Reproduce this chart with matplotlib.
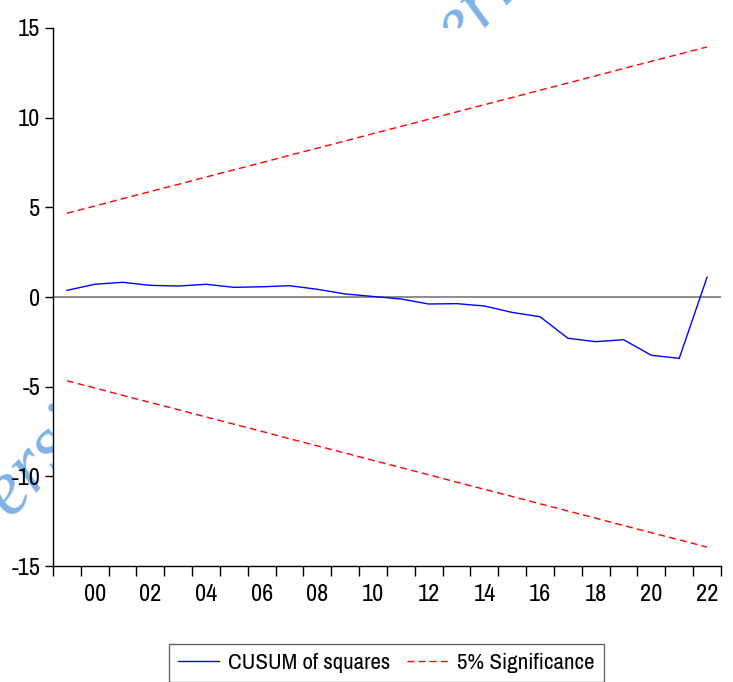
import matplotlib.pyplot as plt

plt.rcParams['font.family'] = ['Archivo Narrow', 'Liberation Sans', 'DejaVu Sans']

years = list(range(1999, 2023))
cusum = [0.37, 0.71, 0.82, 0.65, 0.61, 0.71, 0.54, 0.57, 0.63, 0.43, 0.17, 0.03,
         -0.11, -0.39, -0.37, -0.50, -0.86, -1.10, -2.30, -2.49, -2.38, -3.25, -3.42, 1.10]
upper = [4.67, 5.07, 5.48, 5.88, 6.28, 6.69, 7.09, 7.49, 7.90, 8.30, 8.70, 9.11,
         9.51, 9.91, 10.32, 10.72, 11.12, 11.53, 11.93, 12.33, 12.74, 13.14, 13.54, 13.94]
lower = [-v for v in upper]
year_labels = ['00', '02', '04', '06', '08', '10', '12', '14', '16', '18', '20', '22']

fig = plt.figure(figsize=(7.33, 6.82), dpi=100)

# light watermark, sits behind the white plot area
fig.text(0.29, 0.585, 'University Journal of Nigeria', fontsize=56, family='Liberation Serif',
         style='italic', color='#7fb2e5', rotation=46, ha='center', va='center', zorder=0)

ax = fig.add_axes([0.0723, 0.170, 0.9113, 0.789])
ax.set_facecolor('white')
ax.set_zorder(1)

ax.axhline(0, color='#6e6e6e', lw=1.1, zorder=1)
ax.plot(years, cusum, color='#0000ff', lw=1.0, label='CUSUM of squares', zorder=3)
ax.plot(years, upper, color='#ff0000', lw=1.0, ls=(0, (5, 3)), label='5% Significance', zorder=2)
ax.plot(years, lower, color='#ff0000', lw=1.0, ls=(0, (5, 3)), zorder=2)

ax.set_xlim(1998.5, 2022.5)
ax.set_ylim(-15, 15)
ax.set_yticks([-15, -10, -5, 0, 5, 10, 15])
ax.set_yticklabels(['-15', '-10', '-5', '0', '5', '10', '15'])

# year boundaries get tick marks, even years get the labels
ax.set_xticks([y + 0.5 for y in range(1998, 2023)], minor=True)
ax.set_xticks(list(range(2000, 2023, 2)))
ax.set_xticklabels(year_labels)
ax.tick_params(axis='x', which='major', length=0, pad=13, labelsize=17.5)
ax.tick_params(axis='x', which='minor', length=7.5, width=1.0, direction='out')
ax.tick_params(axis='y', length=6, width=1.0, direction='out', pad=3, labelsize=17.5)

for side in ('top', 'right'):
    ax.spines[side].set_visible(False)
for side in ('left', 'bottom'):
    ax.spines[side].set_linewidth(1.0)

fig.legend(loc='upper center', bbox_to_anchor=(0.527, 1 - 644 / 682), ncol=2,
           fontsize=16.5, frameon=True, fancybox=False, edgecolor='#404040',
           handlelength=1.8, handletextpad=0.4, columnspacing=0.7,
           borderpad=0.4, borderaxespad=0)

fig.savefig('out.png', dpi=100)
